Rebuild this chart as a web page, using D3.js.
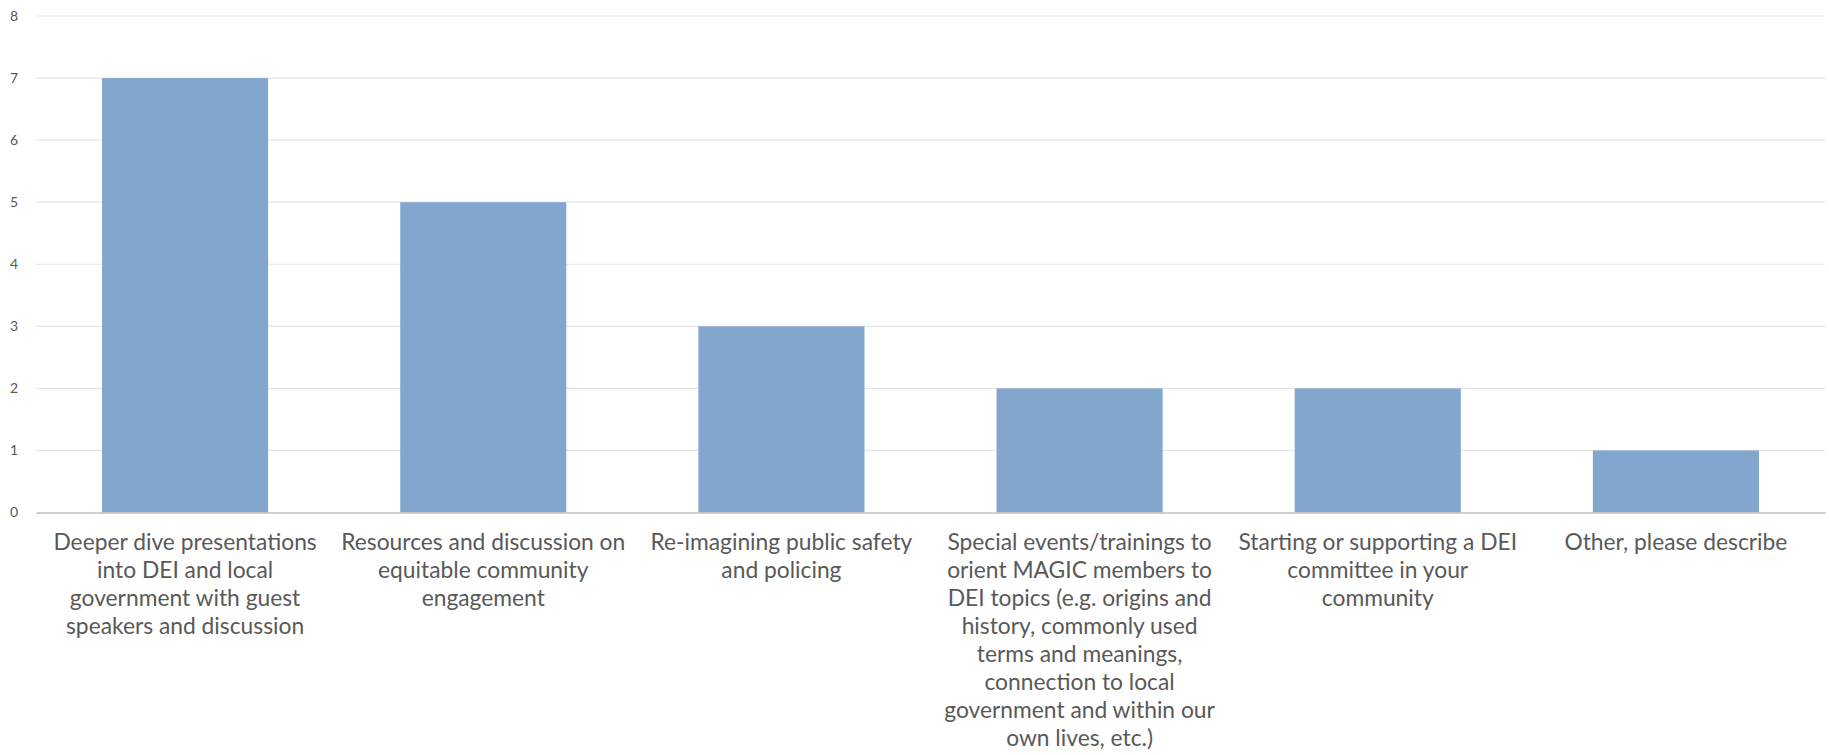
<!DOCTYPE html>
<html>
<head>
<meta charset="utf-8">
<script src="https://cdn.jsdelivr.net/npm/d3@7/dist/d3.min.js"></script>
<style>
  html, body { margin: 0; padding: 0; background: #fff; }
  svg { display: block; }
</style>
</head>
<body>
<svg id="chart" width="1829" height="755"></svg>
<script>
const categories = [
  "Deeper dive presentations into DEI and local government with guest speakers and discussion",
  "Resources and discussion on equitable community engagement",
  "Re-imagining public safety and policing",
  "Special events/trainings to orient MAGIC members to DEI topics (e.g. origins and history, commonly used terms and meanings, connection to local government and within our own lives, etc.)",
  "Starting or supporting a DEI committee in your community",
  "Other, please describe"
];
const values = [7, 5, 3, 2, 2, 1];
const yTicks = [0, 1, 2, 3, 4, 5, 6, 7, 8];
const labelLines = [
  ["Deeper dive presentations", "into DEI and local", "government with guest", "speakers and discussion"],
  ["Resources and discussion on", "equitable community", "engagement"],
  ["Re-imagining public safety", "and policing"],
  ["Special events/trainings to", "orient MAGIC members to", "DEI topics (e.g. origins and", "history, commonly used", "terms and meanings,", "connection to local", "government and within our", "own lives, etc.)"],
  ["Starting or supporting a DEI", "committee in your", "community"],
  ["Other, please describe"]
];

const svg = d3.select("#chart");
const x = d3.scaleBand().domain(categories).range([36, 1825]).paddingInner(0.443).paddingOuter(0.2215);
const y = d3.scaleLinear().domain([0, 8]).range([512.5, 16]);

// gridlines
svg.append("g")
  .selectAll("line")
  .data(yTicks.filter(d => d > 0))
  .join("line")
  .attr("x1", 36).attr("x2", 1825)
  .attr("y1", d => y(d)).attr("y2", d => y(d))
  .attr("stroke", "#e6e6e6").attr("stroke-width", 1.2);

// y axis labels
const yAxis = d3.axisLeft(y).tickValues(yTicks).tickSize(0).tickPadding(0);
const gy = svg.append("g").attr("transform", "translate(18,0)").call(yAxis);
gy.select(".domain").remove();
gy.selectAll("text")
  .attr("font-family", "Lato, 'Open Sans', sans-serif")
  .attr("font-size", 14)
  .attr("fill", "#595959");

// bars
svg.append("g")
  .selectAll("rect")
  .data(values)
  .join("rect")
  .attr("x", (d, i) => x(categories[i]))
  .attr("width", x.bandwidth())
  .attr("y", d => y(d))
  .attr("height", d => y(0) - y(d))
  .attr("fill", "#83a6cf");

// x axis line
const xAxis = d3.axisBottom(x).tickSize(0).tickFormat("");
const gx = svg.append("g").attr("transform", `translate(0,${y(0)})`).call(xAxis);
gx.select(".domain").attr("stroke", "#bfbfbf").attr("stroke-width", 1.5);

// category labels
const lab = svg.append("g")
  .attr("font-family", "Lato, 'Open Sans', sans-serif")
  .attr("font-size", 22.8)
  .attr("fill", "#595959")
  .attr("text-anchor", "middle");
categories.forEach((c, i) => {
  const t = lab.append("text")
    .attr("x", x(c) + x.bandwidth() / 2)
    .attr("y", 550);
  labelLines[i].forEach((ln, j) => {
    t.append("tspan")
      .attr("x", x(c) + x.bandwidth() / 2)
      .attr("dy", j === 0 ? 0 : 28)
      .text(ln);
  });
});
</script>
</body>
</html>
